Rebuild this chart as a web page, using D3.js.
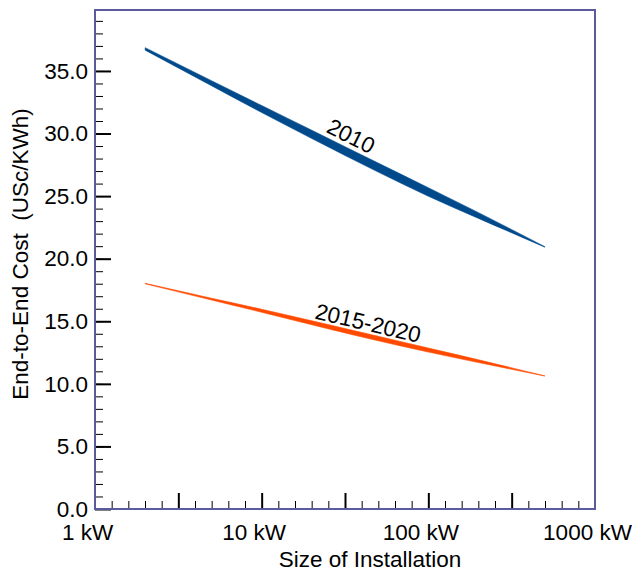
<!DOCTYPE html>
<html>
<head>
<meta charset="utf-8">
<script src="https://cdn.jsdelivr.net/npm/d3@7"></script>
<style>
  body { margin: 0; background: #fff; }
  svg { display: block; font-family: "Liberation Sans", Arial, sans-serif; }
  .tick line { stroke: #000; }
</style>
</head>
<body>
<svg id="chart"></svg>
<script>
// installation sizes (kW) where the bands were read
const sizesKW = [2, 5, 10, 20, 50, 100, 200, 500];

// 2010 cost band (USc/KWh)
const cost2010Low  = [36.66, 33.82, 31.68, 29.60, 26.92, 24.99, 23.22, 20.92];
const cost2010High = [36.86, 34.22, 32.24, 30.26, 27.64, 25.67, 23.68, 20.96];

// 2015-2020 cost band
const cost2015Low  = [17.99, 16.70, 15.72, 14.72, 13.44, 12.54, 11.70, 10.62];
const cost2015High = [18.03, 16.84, 15.96, 15.04, 13.80, 12.86, 11.92, 10.64];

const yMajorTicks = [0, 5, 10, 15, 20, 25, 30, 35];
const xLabelValues = [1, 10, 100, 1000];
const xLabels = ["1 kW", "10 kW", "100 kW", "1000 kW"];

const W = 632, H = 572;
const plot = { left: 95, right: 595, top: 10, bottom: 509 };

const svg = d3.select("#chart").attr("width", W).attr("height", H);

const x = d3.scaleLog().domain([1, 1000]).range([plot.left, plot.right]);
const y = d3.scaleLinear().domain([0, 39.87]).range([plot.bottom, plot.top]);

// bands
const bands = [
  { name: "2010", lo: cost2010Low, hi: cost2010High, color: "#004a8c" },
  { name: "2015-2020", lo: cost2015Low, hi: cost2015High, color: "#ff4a00" }
];

const area = d3.area()
  .x(d => x(d.kw))
  .y0(d => y(d.lo))
  .y1(d => y(d.hi))
  .curve(d3.curveMonotoneX);

bands.forEach(b => {
  const pts = sizesKW.map((kw, i) => ({ kw: kw, lo: b.lo[i], hi: b.hi[i] }));
  svg.append("path")
    .attr("d", area(pts))
    .attr("fill", b.color)
    .attr("stroke", b.color)
    .attr("stroke-width", 0.6);
});

// band labels
const bandLabels = [
  { text: "2010", kw: 34.4, cost: 29.8, angle: 26.6 },
  { text: "2015-2020", kw: 43.5, cost: 14.86, angle: 13.2 }
];
svg.selectAll(".band-label")
  .data(bandLabels)
  .enter()
  .append("text")
  .attr("class", "band-label")
  .attr("transform", d => "translate(" + x(d.kw) + "," + y(d.cost) + ") rotate(" + d.angle + ")")
  .attr("text-anchor", "middle")
  .attr("dy", "0.35em")
  .attr("font-size", 22.5)
  .attr("fill", "#000")
  .text(d => d.text);

// y axis: minor ticks every 1, major every 5
const yMinor = svg.append("g")
  .attr("transform", "translate(" + plot.left + ",0)")
  .call(d3.axisLeft(y).tickValues(d3.range(1, 40)).tickSize(-8).tickFormat(""));
yMinor.select(".domain").remove();

const yMajor = svg.append("g")
  .attr("transform", "translate(" + plot.left + ",0)")
  .call(d3.axisLeft(y).tickValues(yMajorTicks).tickSize(-16).tickPadding(7).tickFormat(d3.format(".1f")));
yMajor.select(".domain").remove();
yMajor.selectAll("line").attr("stroke-width", 2);
yMajor.selectAll("text").attr("font-size", 22.5).attr("fill", "#000");

// x axis: ticks every 0.1 decade, major every half decade
const xTickVals = d3.range(1, 30).map(k => Math.pow(10, k / 10));
const xMinor = svg.append("g")
  .attr("transform", "translate(0," + plot.bottom + ")")
  .call(d3.axisBottom(x).tickValues(xTickVals.filter((v, i) => (i + 1) % 5 !== 0)).tickSize(-8).tickFormat(""));
xMinor.select(".domain").remove();

const xMajor = svg.append("g")
  .attr("transform", "translate(0," + plot.bottom + ")")
  .call(d3.axisBottom(x).tickValues(xTickVals.filter((v, i) => (i + 1) % 5 === 0)).tickSize(-16).tickFormat(""));
xMajor.select(".domain").remove();
xMajor.selectAll("line").attr("stroke-width", 2);

const xLab = svg.append("g")
  .attr("transform", "translate(-8," + plot.bottom + ")")
  .call(d3.axisBottom(x).tickValues(xLabelValues).tickSize(0).tickPadding(15)
    .tickFormat((d, i) => xLabels[i]));
xLab.select(".domain").remove();
xLab.selectAll("text").attr("font-size", 22.5).attr("fill", "#000");

// frame
svg.append("rect")
  .attr("x", plot.left)
  .attr("y", plot.top)
  .attr("width", plot.right - plot.left)
  .attr("height", plot.bottom - plot.top)
  .attr("fill", "none")
  .attr("stroke", "#5b5b9b")
  .attr("stroke-width", 2);

// axis titles
svg.append("text")
  .attr("x", (plot.left + plot.right) / 2 + 25)
  .attr("y", 567)
  .attr("text-anchor", "middle")
  .attr("font-size", 22.5)
  .attr("fill", "#000")
  .text("Size of Installation");

svg.append("text")
  .attr("transform", "translate(28,254) rotate(-90)")
  .attr("text-anchor", "middle")
  .attr("font-size", 22.5)
  .attr("fill", "#000")
  .style("white-space", "pre")
  .text("End-to-End Cost  (USc/KWh)");
</script>
</body>
</html>
